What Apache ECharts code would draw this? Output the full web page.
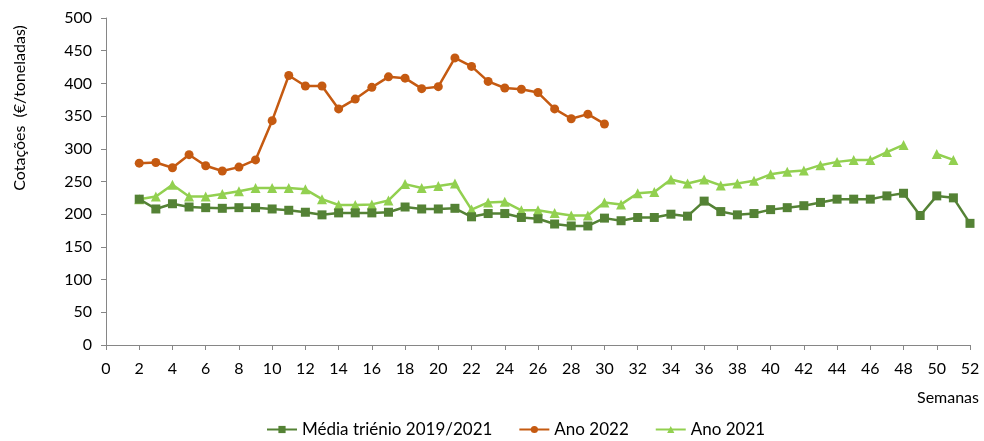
<!DOCTYPE html>
<html>
<head>
<meta charset="utf-8">
<script src="https://cdn.jsdelivr.net/npm/echarts@6/dist/echarts.min.js"></script>
<style>
  html, body { margin: 0; padding: 0; background: #fff; }
  #chart { width: 984px; height: 441px; }
</style>
</head>
<body>
<div id="chart"></div>
<script>
// semanas 2..52
let weeks = [];
for (let w = 2; w <= 52; w++) weeks.push(w);

let mediaTrienio = [223, 208, 216, 211, 210, 209, 210, 210, 208, 206, 203, 199, 202, 202, 202, 203,
    211, 208, 208, 209, 196, 201, 201, 195, 193, 185, 182, 182, 194, 190, 195, 195, 200,
    197, 220, 204, 199, 201, 207, 210, 213, 218, 223, 223, 223, 228, 232, 198, 228, 225, 186];

let ano2022 = [278, 279, 271, 291, 274, 266, 272, 283, 343, 412, 396, 396, 361, 376, 394, 410,
    408, 392, 395, 439, 426, 403, 393, 391, 386, 361, 346, 353, 338];

let ano2021 = [223, 227, 245, 227, 227, 231, 235, 240, 240, 240, 238, 223, 214, 214, 215, 221,
    246, 240, 243, 247, 207, 218, 219, 206, 206, 202, 198, 198, 218, 215, 232, 234, 253,
    247, 253, 244, 247, 251, 261, 265, 267, 275, 280, 283, 283, 295, 306, null, 292, 283];

let xTicks = { min: 0, max: 52, interval: 2 };
let yTicks = { min: 0, max: 500, interval: 50 };

function pairs(values) {
    return values.map(function (v, i) { return [weeks[i], v]; });
}

let fontFamily = 'Lato, sans-serif';
let axisColor = '#868686';

let chart = echarts.init(document.getElementById('chart'));
chart.setOption({
    animation: false,
    textStyle: { fontFamily: fontFamily },
    grid: { left: 106, right: 14, top: 18, bottom: 96, containLabel: false },
    xAxis: {
        type: 'value',
        min: xTicks.min,
        max: xTicks.max,
        interval: xTicks.interval,
        axisLine: { show: true, lineStyle: { color: axisColor, width: 1 } },
        axisTick: { show: true, length: 5, lineStyle: { color: axisColor } },
        splitLine: { show: false },
        axisLabel: { color: '#000', fontSize: 16, margin: 16, fontFamily: fontFamily }
    },
    yAxis: {
        type: 'value',
        min: yTicks.min,
        max: yTicks.max,
        interval: yTicks.interval,
        axisLine: { show: true, lineStyle: { color: axisColor, width: 1 } },
        axisTick: { show: true, length: 5, lineStyle: { color: axisColor } },
        splitLine: { show: false },
        axisLabel: { color: '#000', fontSize: 16, margin: 14, fontFamily: fontFamily }
    },
    graphic: [
        {
            type: 'text',
            x: 20, y: 108,
            rotation: Math.PI / 2,
            style: {
                text: 'Cotações  (€/toneladas)',
                fill: '#000',
                font: '16px ' + fontFamily,
                textAlign: 'center',
                textVerticalAlign: 'middle'
            }
        },
        {
            type: 'text',
            right: 5, top: 390,
            style: {
                text: 'Semanas',
                fill: '#000',
                font: '16px ' + fontFamily
            }
        }
    ],
    legend: {
        top: 421,
        left: 266,
        itemGap: 26,
        itemWidth: 30,
        itemHeight: 9,
        padding: 0,
        textStyle: { fontSize: 17, color: '#000', fontFamily: fontFamily },
        data: ['Média triénio 2019/2021', 'Ano 2022', 'Ano 2021']
    },
    series: [
        {
            name: 'Média triénio 2019/2021',
            type: 'line',
            data: pairs(mediaTrienio),
            symbol: 'rect',
            symbolSize: 9,
            lineStyle: { color: '#548235', width: 2.5 },
            itemStyle: { color: '#548235' },
            z: 3
        },
        {
            name: 'Ano 2022',
            type: 'line',
            data: pairs(ano2022),
            symbol: 'circle',
            symbolSize: 9,
            lineStyle: { color: '#c55a11', width: 2.5 },
            itemStyle: { color: '#c55a11' },
            z: 4
        },
        {
            name: 'Ano 2021',
            type: 'line',
            data: pairs(ano2021),
            symbol: 'triangle',
            symbolSize: 10,
            connectNulls: false,
            lineStyle: { color: '#92d050', width: 2.5 },
            itemStyle: { color: '#92d050' },
            z: 2
        }
    ]
});
</script>
</body>
</html>
